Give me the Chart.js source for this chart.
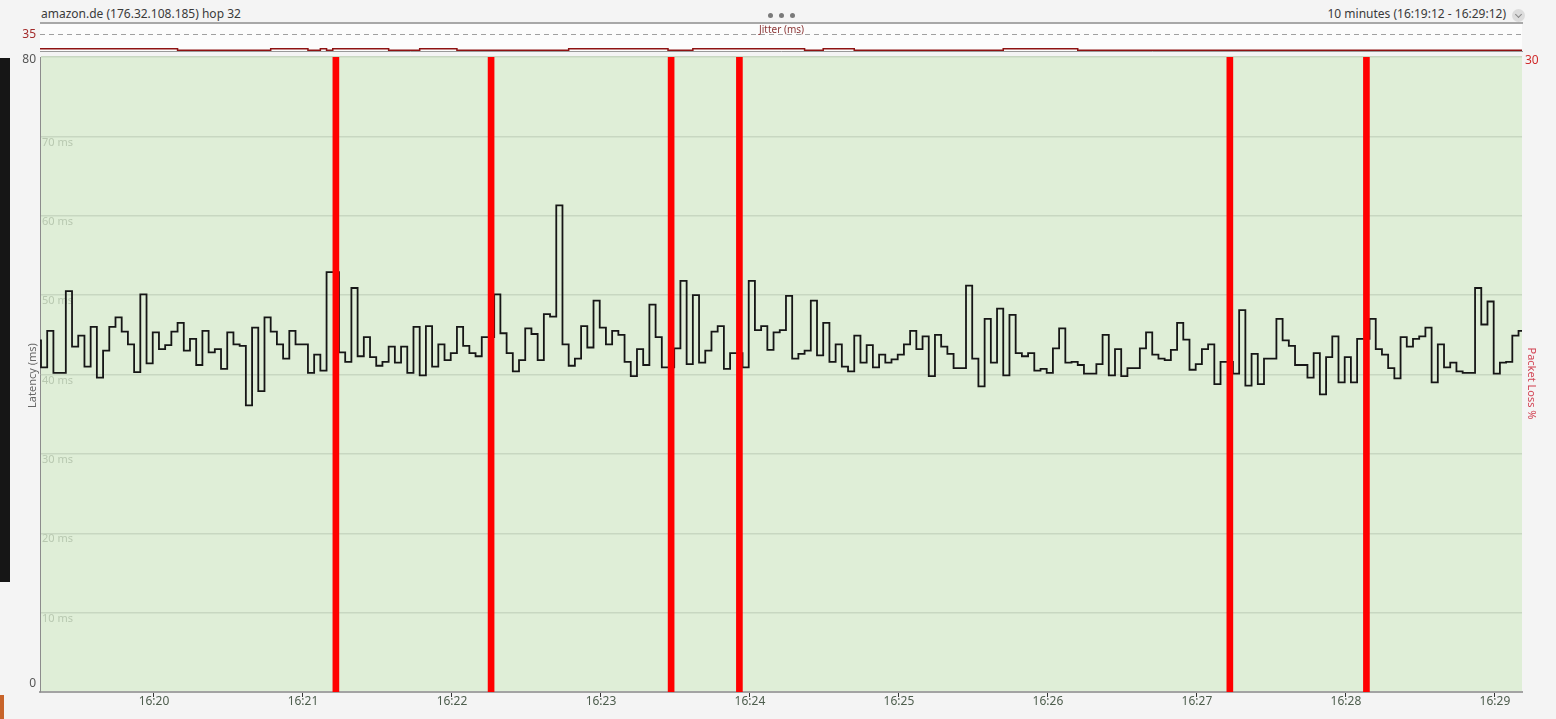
<!DOCTYPE html>
<html>
<head>
<meta charset="utf-8">
<script src="https://cdn.jsdelivr.net/npm/chart.js@4.4.1/dist/chart.umd.min.js"></script>
<style>
  html, body { margin: 0; padding: 0; background: #f4f4f4; overflow: hidden; }
  body { width: 1556px; height: 719px; position: relative; font-family: "Noto Sans", sans-serif; }
  canvas { position: absolute; left: 0; }
  #main { top: 0; }
  #jitter { top: 22px; }
  .hdr { position: absolute; top: 5px; font-size: 12px; color: #3a3a3a; white-space: nowrap; }
  #title { left: 41px; }
  #range { right: 50px; }
  #chev { position: absolute; left: 1512px; top: 9px; width: 13px; height: 13px; border-radius: 50%; background: #dcdcdc; }
  #chev:after { content: ""; position: absolute; left: 4px; top: 3px; width: 4px; height: 4px; border-right: 1.2px solid #888; border-bottom: 1.2px solid #888; transform: rotate(45deg); }
  #dots { position: absolute; left: 768px; top: 1px; }
  #dots i { display: inline-block; width: 5px; height: 5px; border-radius: 50%; background: #7a7a7a; margin-right: 6px; }
  #jtitle { position: absolute; left: 759px; top: 22px; font-size: 10px; color: #8b3535; pointer-events: none; }
  #edge { position: absolute; left: 0; top: 58px; width: 10px; height: 524px; background: #161616; }
  #edge2 { position: absolute; left: 0; top: 695px; width: 4px; height: 24px; background: #c8642a; }
</style>
</head>
<body>
<div id="edge"></div>
<div id="edge2"></div>
<div class="hdr" id="title">amazon.de (176.32.108.185) hop 32</div>
<div class="hdr" id="range">10 minutes (16:19:12 - 16:29:12)</div>
<div id="chev"></div>
<div id="dots"><i></i><i></i><i></i></div>
<canvas id="main" width="1556" height="719"></canvas>
<canvas id="jitter" width="1556" height="31"></canvas>
<div id="jtitle">Jitter (ms)</div>
<script>
// time window shown on the x axis
const viewFrom = '16:19:14.1';
const viewTo = '16:29:10.9';
const xTickLabels = ['16:20', '16:21', '16:22', '16:23', '16:24', '16:25', '16:26', '16:27', '16:28', '16:29'];

// one ping every 2.5 s from 16:19:12, null = lost packet
const sampleStart = '16:19:12';
const sampleStep = 2.5;
const latencyMs = [
  44.3, 40.9, 45.5, 40.2, 40.2, 50.5, 43.5, 44.9, 41, 46, 39.6, 43, 46, 47.2, 45.4, 43.8,
  40.3, 50.1, 41.4, 45.3, 43.2, 43.7, 45.4, 46.5, 43, 44.5, 41.2, 45.5, 42.8, 43.2, 40.7, 45.3,
  43.8, 43.6, 36.1, 45.9, 37.9, 47.2, 45.4, 43.8, 42, 45.5, 43.8, 43.8, 40.2, 42.5, 40.5, 52.9,
  null,
  42.8, 41.6, 50.9, 42.3, 44.7, 42.2, 41.1, 41.6, 43.5, 41.5, 43.5, 40.2, 46, 39.9, 46.1, 41,
  43.8, 41.8, 42.7, 46, 43.6, 42.7, 42.3, 44.7,
  null,
  50.1, 45.2, 42.7, 40.4, 41.8, 45.8, 45.1, 41.8, 47.6, 47.3, 61.3, 43.8, 41.1, 42, 46.1, 43.4,
  49.3, 45.9, 43.8, 45.5, 45, 41.6, 39.8, 43.2, 41.2, 48.8, 44.7, 40.9,
  null,
  43.3, 51.8, 41.3, 50, 41.5, 43, 45.4, 46.1, 40.7, 42.7,
  null,
  40.9, 51.8, 45.6, 46.1, 43.1, 45.3, 45.6, 49.9, 42, 42.6, 43, 49.3, 42.4, 46.5, 41.6, 43.8,
  41, 40.4, 44.9, 41.5, 43.7, 40.9, 42.5, 41.5, 41.9, 42.5, 43.8, 45.5,
  43.2, 44.8, 39.8, 45, 43.5, 42.6, 40.8, 40.8, 51.2, 42, 38.5, 47, 41.5, 48.3, 39.9, 47.5,
  42.7, 42.3, 42.7, 40.5, 40.7, 40.2, 43.3, 45.8, 41.5, 41.6, 41.2, 40.1, 40.1, 41.3, 45, 39.9,
  43.2, 39.8, 40.8, 40.8, 43.3, 45.3, 42.5, 42, 41.8, 43.1, 46.5, 44.4, 40.6, 41.3, 43.2, 43.8,
  38.8, 41.6,
  null,
  40.1, 48.1, 38.6, 42.6, 38.8, 42, 42, 47, 44.3, 43.6, 41.2, 41.2, 39.6, 42.7, 37.5, 42.2,
  44.8, 39, 42.2, 39, 44.5,
  null,
  47, 43.2, 42.5, 40.8, 39.5, 44.7, 43.5, 44.5, 44.8, 45.9, 39, 43.8, 40.9, 41.5, 40.4, 40.2,
  40.2, 50.9, 46.3, 49.2, 40.1, 41.5, 41.6, 44.9, 45.5, 45.5
];
const lostPacketLoss = 100; // a lost ping counts as 100 % loss for its slot

// jitter changes (time it starts, ms)
const jitterTimes = ['16:19:12', '16:20:09.5', '16:20:47', '16:21:02', '16:21:07', '16:21:09.5', '16:21:12',
  '16:21:34.5', '16:21:47', '16:22:02', '16:22:47', '16:23:27', '16:23:37', '16:24:22', '16:24:29.5',
  '16:24:42', '16:25:42', '16:26:12', '16:29:12'];
const jitterMs = [5, 1.5, 5, 1.5, 5, 1.5, 5, 1.5, 5, 1.5, 5, 1.5, 5, 1.5, 5, 1.5, 5, 1.5, 1.5];

function toSec(s) {
  const p = s.split(':').map(Number);
  return p[0] * 3600 + p[1] * 60 + (p[2] || 0);
}
function fmtMin(v) {
  const h = Math.floor(v / 3600), m = Math.floor((v % 3600) / 60);
  return h + ':' + String(m).padStart(2, '0');
}

Chart.defaults.font.family = '"Noto Sans", sans-serif';

const xMin = toSec(viewFrom), xMax = toSec(viewTo);
const t0 = toSec(sampleStart);
const tickSecs = xTickLabels.map(toSec);

const latencyPoints = latencyMs.map((v, i) => ({ x: t0 + i * sampleStep, y: v }));
const lossPoints = [];
latencyMs.forEach((v, i) => {
  if (v === null) lossPoints.push({ x: t0 + i * sampleStep + sampleStep / 2, y: lostPacketLoss });
});
const jitterPoints = jitterTimes.map((t, i) => ({ x: toSec(t), y: jitterMs[i] }));

// green plot area
const plotBg = {
  id: 'plotBg',
  beforeDraw(chart) {
    const { ctx, chartArea: a } = chart;
    ctx.save();
    ctx.fillStyle = '#dfeed7';
    ctx.fillRect(a.left, a.top, a.right - a.left, a.bottom - a.top);
    ctx.restore();
  }
};

// outer labels and axis titles
const sideText = {
  id: 'sideText',
  afterDraw(chart) {
    const { ctx, chartArea: a, scales } = chart;
    ctx.save();
    ctx.font = '12px "Noto Sans"';
    ctx.fillStyle = '#555';
    ctx.textAlign = 'right';
    ctx.textBaseline = 'middle';
    ctx.fillText('80', a.left - 4, scales.y.getPixelForValue(80) + 3);
    ctx.fillText('0', a.left - 4, scales.y.getPixelForValue(0) - 8);

    ctx.font = '11px "Noto Sans"';
    ctx.textAlign = 'center';
    ctx.save();
    ctx.translate(a.left - 7, (a.top + a.bottom) / 2 + 1);
    ctx.rotate(-Math.PI / 2);
    ctx.fillStyle = '#666';
    ctx.fillText('Latency (ms)', 0, 0);
    ctx.restore();

    ctx.save();
    ctx.translate(a.right + 9, (a.top + a.bottom) / 2 + 9);
    ctx.rotate(Math.PI / 2);
    ctx.fillStyle = '#d24454';
    ctx.fillText('Packet Loss %', 0, 0);
    ctx.restore();
    ctx.restore();
  }
};

new Chart(document.getElementById('main'), {
  type: 'line',
  data: {
    datasets: [
      {
        type: 'bar',
        label: 'Packet Loss %',
        data: lossPoints,
        yAxisID: 'yLoss',
        backgroundColor: '#ff0000',
        barThickness: 6,
        grouped: false,
        order: 0
      },
      {
        type: 'line',
        label: 'Latency (ms)',
        data: latencyPoints,
        yAxisID: 'y',
        stepped: 'before', // value holds until the next ping
        borderColor: '#161616',
        borderWidth: 1.8,
        pointRadius: 0,
        spanGaps: true,
        order: 1
      }
    ]
  },
  options: {
    responsive: false,
    animation: false,
    layout: { padding: { top: 57 } },
    plugins: { legend: { display: false }, tooltip: { enabled: false } },
    scales: {
      x: {
        type: 'linear',
        min: xMin,
        max: xMax,
        offset: false,
        afterBuildTicks: s => { s.ticks = tickSecs.map(v => ({ value: v })); },
        ticks: { callback: v => fmtMin(v), color: '#4d5d4d', font: { size: 12 }, padding: -3, maxRotation: 0, autoSkip: false },
        grid: { drawOnChartArea: false, offset: false, tickLength: 5, tickColor: '#333', tickWidth: 1 },
        border: { color: '#a3a3a3', width: 2 },
        afterFit: s => { s.height = 27; }
      },
      y: {
        position: 'left',
        min: 0,
        max: 80,
        ticks: {
          stepSize: 10, mirror: true, labelOffset: 6, padding: 2, color: '#b8c8b0', font: { size: 11 },
          callback: v => (v > 0 && v < 80) ? v + ' ms' : ''
        },
        grid: { color: '#c8d7c1', lineWidth: 1.5, drawTicks: false },
        border: { color: '#8c8c8c', width: 1 },
        afterFit: s => { s.width = 40; }
      },
      yLoss: {
        position: 'right',
        min: 0,
        max: 30,
        afterBuildTicks: s => { s.ticks = [{ value: 30 }]; },
        ticks: { color: '#d02a2a', font: { size: 12 }, padding: 3, labelOffset: 4 },
        grid: { display: false, drawTicks: false },
        border: { display: false },
        afterFit: s => { s.width = 34; }
      }
    }
  },
  plugins: [plotBg, sideText]
});

// white jitter strip with its top rule
const jitterBg = {
  id: 'jitterBg',
  beforeDraw(chart) {
    const { ctx, chartArea: a } = chart;
    ctx.save();
    ctx.fillStyle = '#fcfcfc';
    ctx.fillRect(a.left, a.top, a.right - a.left, a.bottom - a.top);
    ctx.strokeStyle = '#a8a8a8';
    ctx.lineWidth = 2;
    ctx.beginPath();
    ctx.moveTo(a.left, a.top - 1);
    ctx.lineTo(a.right + 1, a.top - 1);
    ctx.stroke();
    ctx.restore();
  }
};

new Chart(document.getElementById('jitter'), {
  type: 'line',
  data: {
    datasets: [{
      label: 'Jitter (ms)',
      data: jitterPoints,
      stepped: 'before',
      borderColor: '#8e1212',
      borderWidth: 1.5,
      pointRadius: 0
    }]
  },
  options: {
    responsive: false,
    animation: false,
    layout: { padding: { top: 2, right: 34 } },
    plugins: { legend: { display: false }, tooltip: { enabled: false } },
    scales: {
      x: {
        type: 'linear',
        min: xMin,
        max: xMax,
        ticks: { display: false },
        grid: { display: false, drawTicks: false },
        border: { color: '#9a9a9a', width: 1 },
        afterFit: s => { s.height = 2; s.paddingLeft = 0; s.paddingRight = 0; }
      },
      y: {
        min: 0,
        max: 58,
        afterBuildTicks: s => { s.ticks = [{ value: 35 }]; },
        ticks: { color: '#a32b2b', font: { size: 12 }, padding: 4 },
        grid: { color: '#a0a0a0', lineWidth: 1, drawTicks: false },
        border: { display: false, dash: [5, 4] },
        afterFit: s => { s.width = 40; s.paddingTop = 0; s.paddingBottom = 0; }
      }
    }
  },
  plugins: [jitterBg]
});
</script>
</body>
</html>
